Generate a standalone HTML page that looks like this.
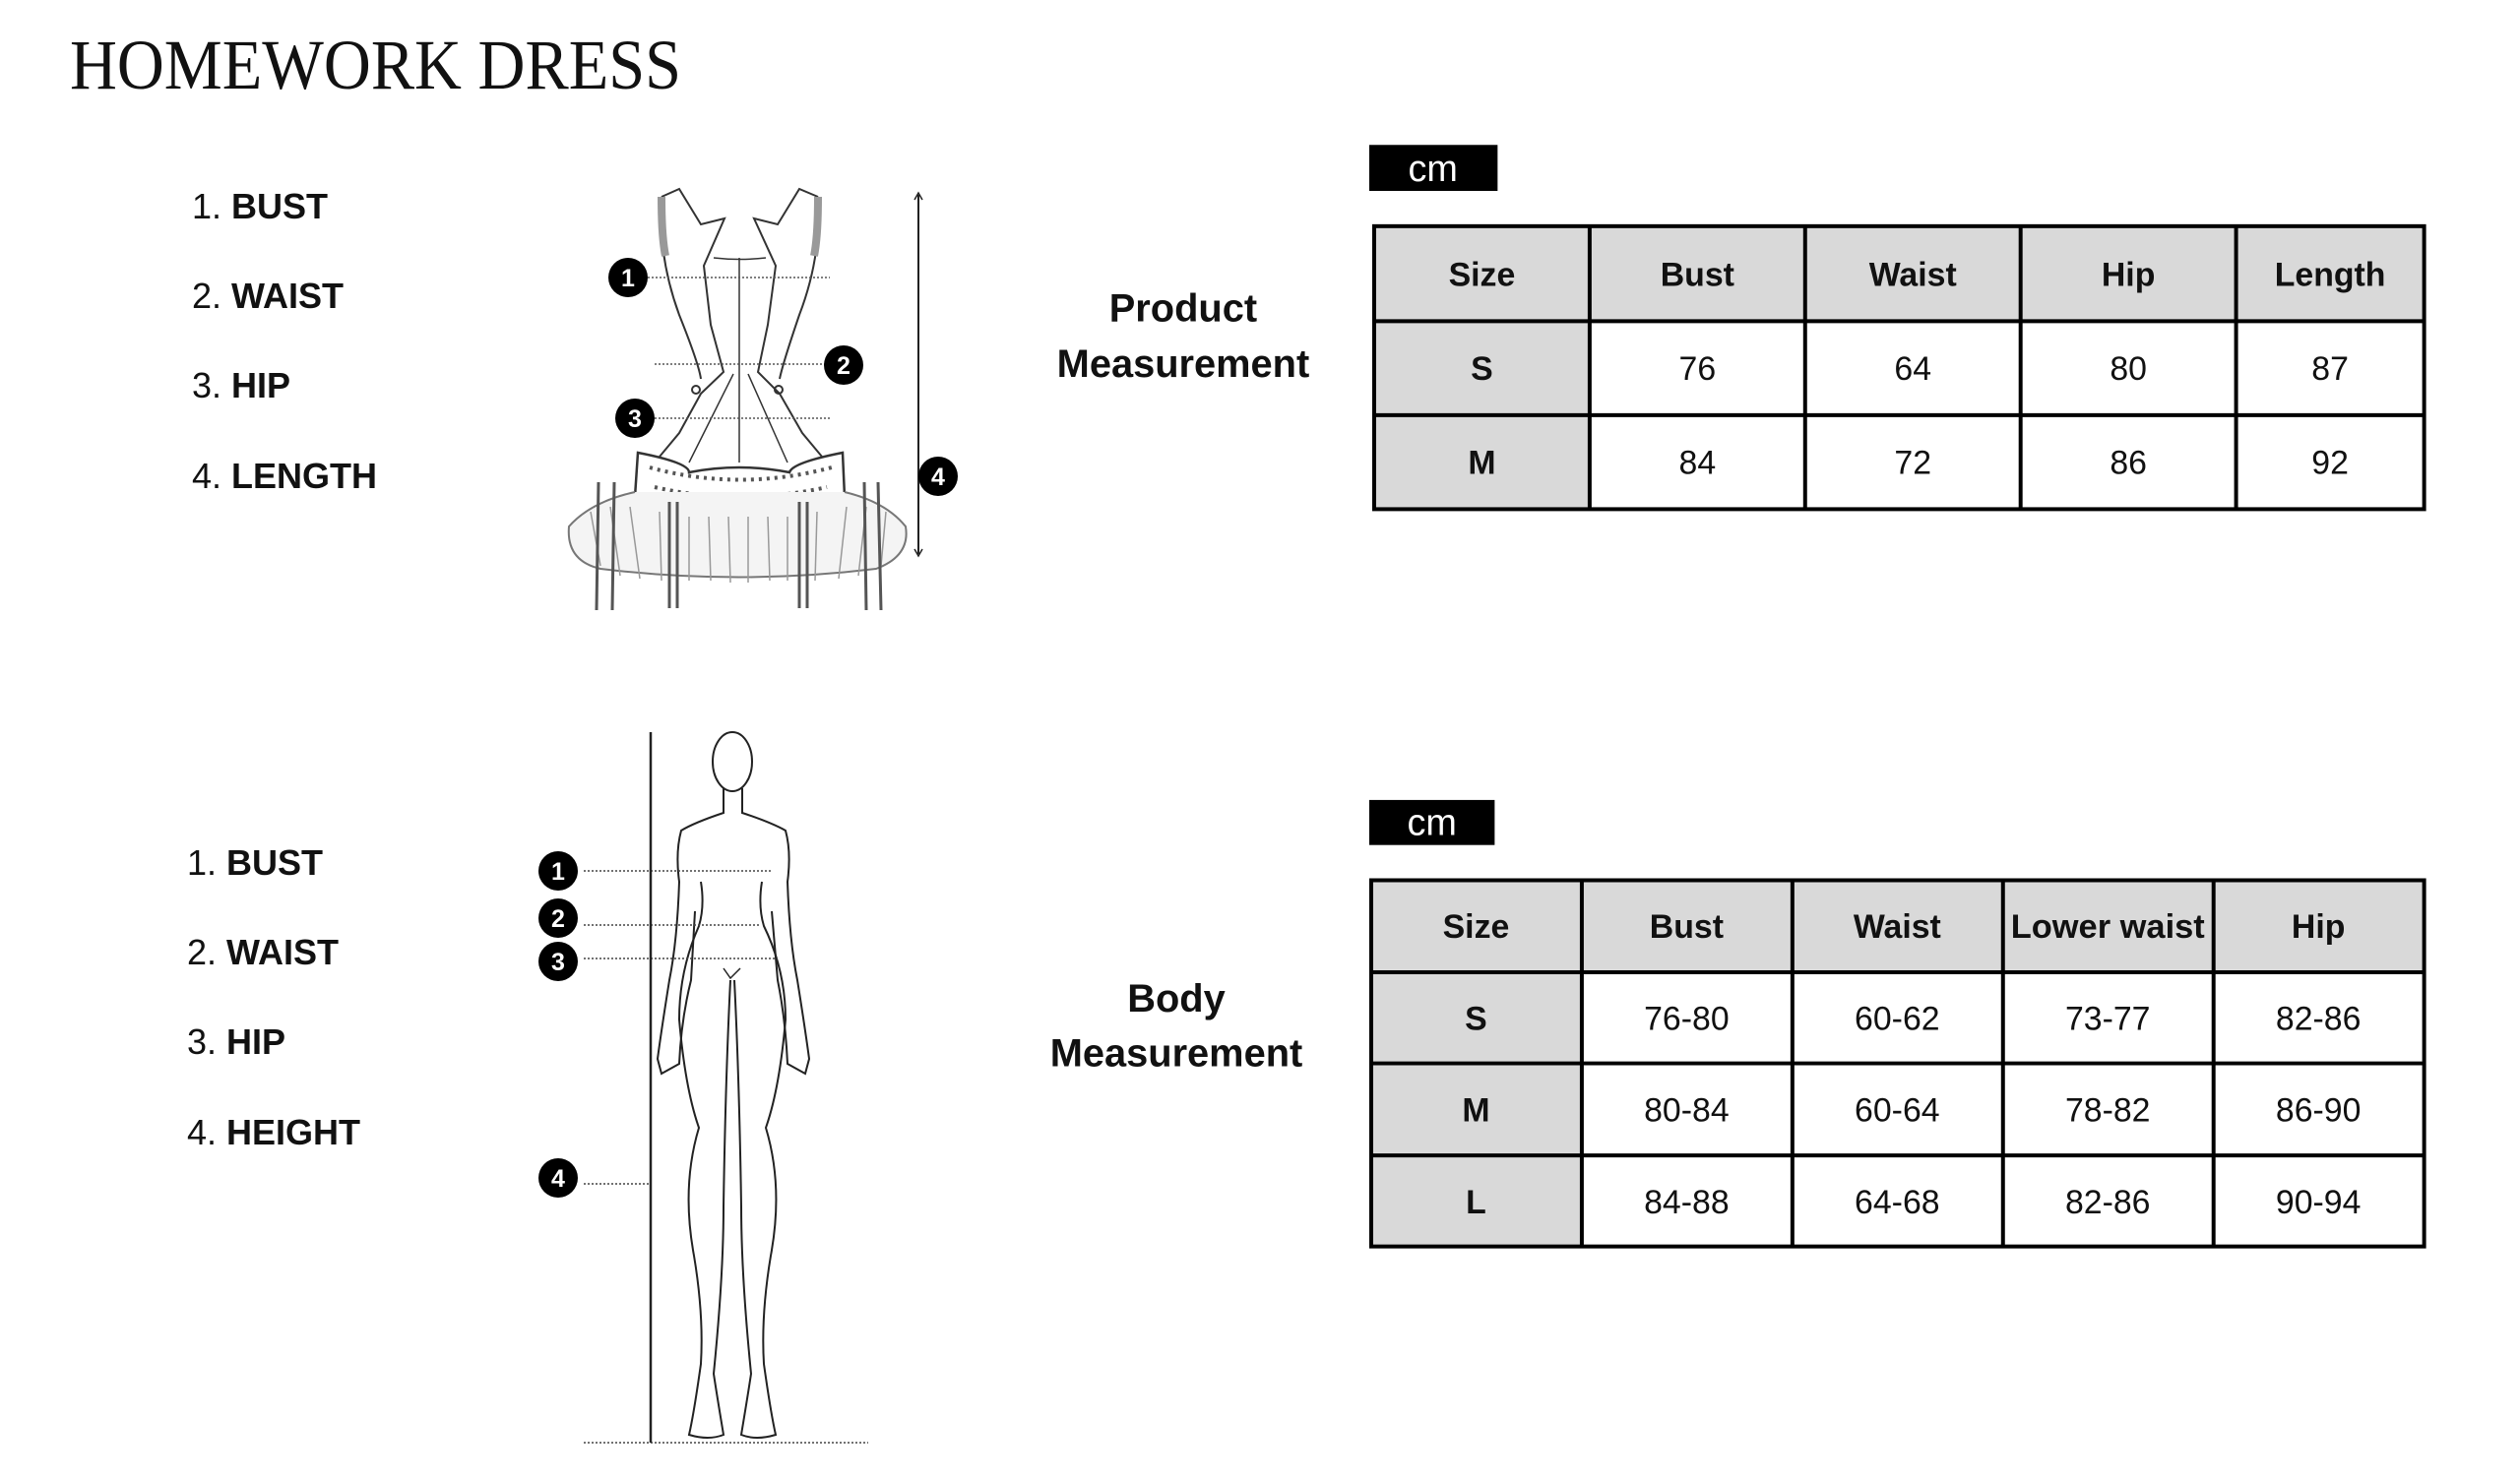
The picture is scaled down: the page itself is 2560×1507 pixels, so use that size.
<!DOCTYPE html>
<html><head><meta charset="utf-8"><style>
html,body{margin:0;padding:0;background:#fff;}
svg{display:block;}
</style></head><body>
<svg width="2560" height="1507" viewBox="0 0 2560 1507" xmlns="http://www.w3.org/2000/svg">
<rect width="2560" height="1507" fill="#fff"/>
<text x="71" y="90" font-family="Liberation Serif, serif" font-size="72" textLength="621" lengthAdjust="spacingAndGlyphs" fill="#111">HOMEWORK DRESS</text>

<g font-family="Liberation Sans, DejaVu Sans, sans-serif" font-size="36" fill="#111">
<text x="195" y="222">1. <tspan font-weight="bold">BUST</tspan></text>
<text x="195" y="313">2. <tspan font-weight="bold">WAIST</tspan></text>
<text x="195" y="404">3. <tspan font-weight="bold">HIP</tspan></text>
<text x="195" y="496">4. <tspan font-weight="bold">LENGTH</tspan></text>
<text x="190" y="889">1. <tspan font-weight="bold">BUST</tspan></text>
<text x="190" y="980">2. <tspan font-weight="bold">WAIST</tspan></text>
<text x="190" y="1071">3. <tspan font-weight="bold">HIP</tspan></text>
<text x="190" y="1163">4. <tspan font-weight="bold">HEIGHT</tspan></text>
</g>

<!-- Dress -->
<g fill="none" stroke="#333" stroke-width="2">
<path d="M672 200 L690 192 L712 228 L736 222 L715 270 L722 330 L735 378 L712 400 L690 440 L665 470 L650 500" />
<path d="M831 200 L812 192 L790 228 L766 222 L788 270 L780 330 L770 378 L792 400 L815 440 L840 470 L855 500" />
<path d="M672 200 Q668 260 690 320 Q710 370 712 385" />
<path d="M831 200 Q835 260 812 320 Q795 370 792 385" />
<path d="M751 262 L751 470" stroke-width="1.5"/>
<path d="M725 262 Q751 265 778 262" stroke-width="1.5"/>
<path d="M745 380 L700 470 M760 380 L800 470" stroke-width="1.5"/>
<circle cx="707" cy="396" r="4"/><circle cx="791" cy="396" r="4"/>
<path d="M648 460 Q700 470 700 480 Q751 470 802 480 Q805 470 856 460 L858 505 Q820 510 812 525 Q751 515 690 525 Q680 510 645 505 Z" fill="#fff" stroke-width="2.5"/>
<path d="M660 475 Q751 500 845 475 M665 495 Q751 515 840 495" stroke="#555" stroke-width="4" stroke-dasharray="3 5"/>
<path d="M645 500 Q600 510 578 535 Q575 570 610 578 Q751 595 890 578 Q925 565 920 535 Q900 510 858 500" fill="#f4f4f4" stroke="#777"/>
<path d="M600 520 L610 575 M620 515 L630 585 M640 515 L650 588 M700 525 L700 590 M720 525 L722 590 M740 525 L742 592 M760 525 L760 592 M780 525 L782 590 M800 525 L800 590 M860 515 L852 588 M880 515 L872 585 M900 520 L895 575 M670 520 L672 590 M830 520 L828 590" stroke="#999" stroke-width="1.5"/>
<path d="M608 490 L606 620 M624 490 L622 620 M680 510 L680 618 M688 510 L688 618 M812 510 L812 618 M820 510 L820 618 M878 490 L880 620 M892 490 L895 620" stroke="#555" stroke-width="3"/>
<path d="M672 200 Q672 240 676 260" stroke="#999" stroke-width="8"/>
<path d="M831 200 Q831 240 827 260" stroke="#999" stroke-width="8"/>
</g>
<g stroke="#555" stroke-width="1.5" stroke-dasharray="2 2">
<line x1="658" y1="282" x2="843" y2="282"/>
<line x1="665" y1="370" x2="838" y2="370"/>
<line x1="665" y1="425" x2="843" y2="425"/>
</g>
<line x1="933" y1="198" x2="933" y2="563" stroke="#222" stroke-width="2"/>
<path d="M929 203 L933 196 L937 203 M929 558 L933 565 L937 558" fill="none" stroke="#222" stroke-width="1.5"/>

<!-- Figure -->
<g transform="translate(0,-4)">
<g fill="none" stroke="#222" stroke-width="2">
<ellipse cx="744" cy="778" rx="20" ry="30"/>
<path d="M735 805 L735 830 Q705 840 692 848 Q686 870 690 900 Q688 960 680 1000 Q672 1050 668 1080 L672 1095 L690 1085 Q692 1040 702 1000 L706 930" />
<path d="M754 805 L754 830 Q784 840 798 848 Q804 870 800 900 Q802 960 810 1000 Q818 1050 822 1080 L818 1095 L800 1085 Q798 1040 790 1000 L784 930" />
<path d="M712 900 Q716 925 710 945 Q690 990 690 1040 Q696 1110 710 1150 Q692 1210 705 1280 Q715 1340 712 1390 Q705 1440 700 1462 Q720 1468 735 1462 Q728 1420 725 1400 Q735 1300 735 1230 Q737 1100 742 1000" />
<path d="M774 900 Q770 925 776 945 Q798 990 798 1040 Q792 1110 778 1150 Q796 1210 783 1280 Q773 1340 776 1390 Q783 1440 788 1462 Q768 1468 753 1462 Q760 1420 763 1400 Q753 1300 753 1230 Q751 1100 746 1000" />
<path d="M735 988 L742 998 L752 988" stroke-width="1.5"/>
</g>
<g stroke="#444" stroke-width="1.5" stroke-dasharray="2 2">
<line x1="593" y1="889" x2="783" y2="889"/>
<line x1="593" y1="944" x2="773" y2="944"/>
<line x1="593" y1="978" x2="790" y2="978"/>
<line x1="593" y1="1207" x2="660" y2="1207"/>
<line x1="593" y1="1470" x2="882" y2="1470"/>
</g>
<line x1="661" y1="748" x2="661" y2="1470" stroke="#222" stroke-width="2.5"/>
</g>

<!-- badges -->
<g font-family="Liberation Sans, DejaVu Sans, sans-serif" font-weight="bold" font-size="25" fill="#fff" text-anchor="middle">
<circle cx="638" cy="282" r="20" fill="#000"/><text x="638" y="291">1</text>
<circle cx="857" cy="371" r="20" fill="#000"/><text x="857" y="380">2</text>
<circle cx="645" cy="425" r="20" fill="#000"/><text x="645" y="434">3</text>
<circle cx="953" cy="484" r="20" fill="#000"/><text x="953" y="493">4</text>
<circle cx="567" cy="885" r="20" fill="#000"/><text x="567" y="894">1</text>
<circle cx="567" cy="933" r="20" fill="#000"/><text x="567" y="942">2</text>
<circle cx="567" cy="977" r="20" fill="#000"/><text x="567" y="986">3</text>
<circle cx="567" cy="1197" r="20" fill="#000"/><text x="567" y="1206">4</text>
</g>

<g transform="scale(0.995)">
<!-- section titles -->
<g font-family="Liberation Sans, DejaVu Sans, sans-serif" font-weight="bold" font-size="40" fill="#111" text-anchor="middle">
<text x="1208" y="328">Product</text>
<text x="1208" y="385">Measurement</text>
<text x="1201" y="1033">Body</text>
<text x="1201" y="1089">Measurement</text>
</g>

<!-- cm boxes -->
<rect x="1398" y="148" width="131" height="47" fill="#000"/>
<text x="1463" y="185" font-family="Liberation Sans, sans-serif" font-size="38" fill="#fff" text-anchor="middle">cm</text>
<rect x="1398" y="817" width="128" height="46" fill="#000"/>
<text x="1462" y="853" font-family="Liberation Sans, sans-serif" font-size="38" fill="#fff" text-anchor="middle">cm</text>

<!-- table 1 -->
<g>
<rect x="1403" y="231" width="1072" height="97" fill="#d9d9d9"/>
<rect x="1403" y="328" width="220" height="192" fill="#d9d9d9"/>
<g stroke="#000" stroke-width="4" fill="none">
<rect x="1403" y="231" width="1072" height="289"/>
<line x1="1403" y1="328" x2="2475" y2="328"/>
<line x1="1403" y1="424" x2="2475" y2="424"/>
<line x1="1623" y1="231" x2="1623" y2="520"/>
<line x1="1843" y1="231" x2="1843" y2="520"/>
<line x1="2063" y1="231" x2="2063" y2="520"/>
<line x1="2283" y1="231" x2="2283" y2="520"/>
</g>
<g font-family="Liberation Sans, DejaVu Sans, sans-serif" font-size="34" fill="#111" text-anchor="middle">
<g font-weight="bold">
<text x="1513" y="292">Size</text><text x="1733" y="292">Bust</text><text x="1953" y="292">Waist</text><text x="2173" y="292">Hip</text><text x="2379" y="292">Length</text>
<text x="1513" y="388">S</text><text x="1513" y="484">M</text>
</g>
<text x="1733" y="388">76</text><text x="1953" y="388">64</text><text x="2173" y="388">80</text><text x="2379" y="388">87</text>
<text x="1733" y="484">84</text><text x="1953" y="484">72</text><text x="2173" y="484">86</text><text x="2379" y="484">92</text>
</g>
</g>

<!-- table 2 -->
<g>
<rect x="1400" y="899" width="1075" height="94" fill="#d9d9d9"/>
<rect x="1400" y="993" width="215" height="280" fill="#d9d9d9"/>
<g stroke="#000" stroke-width="4" fill="none">
<rect x="1400" y="899" width="1075" height="374"/>
<line x1="1400" y1="993" x2="2475" y2="993"/>
<line x1="1400" y1="1086" x2="2475" y2="1086"/>
<line x1="1400" y1="1180" x2="2475" y2="1180"/>
<line x1="1615" y1="899" x2="1615" y2="1273"/>
<line x1="1830" y1="899" x2="1830" y2="1273"/>
<line x1="2045" y1="899" x2="2045" y2="1273"/>
<line x1="2260" y1="899" x2="2260" y2="1273"/>
</g>
<g font-family="Liberation Sans, DejaVu Sans, sans-serif" font-size="34" fill="#111" text-anchor="middle">
<g font-weight="bold">
<text x="1507" y="958">Size</text><text x="1722" y="958">Bust</text><text x="1937" y="958">Waist</text><text x="2152" y="958" textLength="198" lengthAdjust="spacingAndGlyphs">Lower waist</text><text x="2367" y="958">Hip</text>
<text x="1507" y="1052">S</text><text x="1507" y="1145">M</text><text x="1507" y="1239">L</text>
</g>
<text x="1722" y="1052">76-80</text><text x="1937" y="1052">60-62</text><text x="2152" y="1052">73-77</text><text x="2367" y="1052">82-86</text>
<text x="1722" y="1145">80-84</text><text x="1937" y="1145">60-64</text><text x="2152" y="1145">78-82</text><text x="2367" y="1145">86-90</text>
<text x="1722" y="1239">84-88</text><text x="1937" y="1239">64-68</text><text x="2152" y="1239">82-86</text><text x="2367" y="1239">90-94</text>
</g>
</g>
</g>
</svg>
</body></html>
